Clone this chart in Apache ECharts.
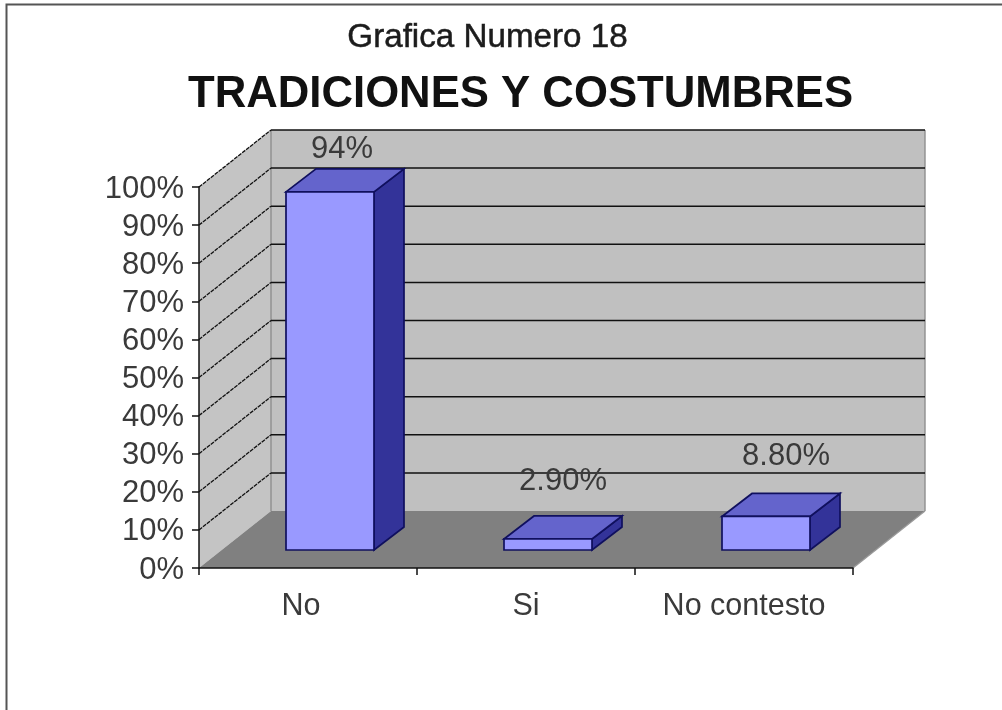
<!DOCTYPE html>
<html>
<head>
<meta charset="utf-8">
<style>html,body{margin:0;padding:0;background:#fff}#chart{width:1002px;height:710px}</style>
<script src="https://cdn.jsdelivr.net/npm/echarts@6/dist/echarts.min.js"></script>
</head>
<body>
<div id="chart"></div>
<script>
// Survey results: share of answers per category, in percent
const categories = ['No', 'Si', 'No contesto'];
const percentages = [94, 2.9, 8.8];
const valueLabels = ['94%', '2.90%', '8.80%'];
const gridLevels = [10, 20, 30, 40, 50, 60, 70, 80, 90, 100];

// Oblique projection used for the pseudo 3D box
const DEPTH_X = 72, DEPTH_Y = -57;
const BAR_WIDTH = 88, BAR_SHIFT_X = 22, BAR_SHIFT_Y = -18, BAR_DX = 30, BAR_DY = -23;
const labelShift = [[12, -42.5], [15, -57], [20, -60]];
const TEXT = '#3a3a3a', FONT = '"Liberation Sans", Arial, sans-serif';

const poly = (points, fill, stroke, width) => ({
  type: 'polygon',
  shape: { points },
  style: { fill, stroke: stroke || 'none', lineWidth: width || 0 }
});
const line = (a, b, stroke, width, dash) => ({
  type: 'line',
  shape: { x1: a[0], y1: a[1], x2: b[0], y2: b[1] },
  style: { stroke, lineWidth: width, lineDash: dash || null }
});

// Walls, floor and the grid lines that wrap from the side wall onto the back wall
function renderBox(params, api) {
  const lo = api.coord([0, 0]);
  const hi = api.coord([categories.length - 1, 100]);
  const band = api.size([1, 0])[0];
  const x0 = lo[0] - band / 2, x1 = hi[0] + band / 2, y0 = lo[1], y1 = hi[1];
  const back = (x, y) => [x + DEPTH_X, y + DEPTH_Y];
  const children = [
    poly([[x0, y1], back(x0, y1), back(x0, y0), [x0, y0]], '#c4c4c4'),
    poly([back(x0, y1), back(x1, y1), back(x1, y0), back(x0, y0)], '#c0c0c0'),
    poly([[x0, y0], back(x0, y0), back(x1, y0), [x1, y0]], '#808080'),
    line(back(x0, y1), back(x0, y0), '#8f8f8f', 1.4),
    line(back(x1, y1), back(x1, y0), '#8f8f8f', 1.4),
    line([x1, y0], back(x1, y0), '#9a9a9a', 1.2)
  ];
  gridLevels.forEach(level => {
    const y = api.coord([0, level])[1];
    children.push(line([x0, y], back(x0, y), '#111', 1.3, [4, 1]));
    children.push(line(back(x0, y), back(x1, y), '#111', 1.5));
  });
  return { type: 'group', children };
}

// One extruded bar: side and top faces behind the front face
function renderBar(params, api) {
  const idx = api.value(0);
  const top = api.coord([idx, api.value(1)]);
  const base = api.coord([idx, 0]);
  const l = base[0] + BAR_SHIFT_X - BAR_WIDTH / 2, r = l + BAR_WIDTH;
  const t = top[1] + BAR_SHIFT_Y, b = base[1] + BAR_SHIFT_Y;
  const edge = '#10105e';
  return {
    type: 'group',
    children: [
      poly([[r, t], [r + BAR_DX, t + BAR_DY], [r + BAR_DX, b + BAR_DY], [r, b]], '#333399', edge, 1.7),
      poly([[l, t], [l + BAR_DX, t + BAR_DY], [r + BAR_DX, t + BAR_DY], [r, t]], '#6464cc', edge, 1.7),
      poly([[l, t], [r, t], [r, b], [l, b]], '#9999ff', edge, 1.7),
      {
        type: 'text',
        style: {
          text: valueLabels[idx],
          x: (l + r) / 2 + labelShift[idx][0],
          y: t + labelShift[idx][1],
          align: 'center',
          verticalAlign: 'middle',
          fill: TEXT,
          font: '31px ' + FONT
        }
      }
    ]
  };
}

const chart = echarts.init(document.getElementById('chart'), null, { renderer: 'canvas' });
chart.setOption({
  animation: false,
  backgroundColor: '#ffffff',
  graphic: [{
    type: 'rect',
    shape: { x: 6.5, y: 4.5, width: 1100, height: 800 },
    style: { fill: 'none', stroke: '#555', lineWidth: 2 },
    silent: true
  }],
  title: [
    {
      text: 'Grafica Numero 18', left: 482.5, top: 16, textAlign: 'center',
      textStyle: {
        fontFamily: FONT, fontSize: 33.2, fontWeight: 'normal', color: '#1c1c1c',
        textBorderColor: '#1c1c1c', textBorderWidth: 0.5
      }
    },
    {
      text: 'TRADICIONES Y COSTUMBRES', left: 515.5, top: 68, textAlign: 'center',
      textStyle: { fontFamily: FONT, fontSize: 43.7, fontWeight: 'bold', color: '#111' }
    }
  ],
  grid: { left: 199, width: 654, top: 187, height: 381 },
  xAxis: {
    type: 'category',
    data: categories.map((name, i) => (i === 0 ? { value: name, textStyle: { padding: [0, 14, 0, 0] } } : name)),
    z: 5,
    axisLine: { lineStyle: { color: '#111', width: 1.5 } },
    axisTick: { show: true, alignWithLabel: false, length: 7, lineStyle: { color: '#111', width: 1.5 } },
    axisLabel: { color: TEXT, fontFamily: FONT, fontSize: 30.5, margin: 23 },
    splitLine: { show: false }
  },
  yAxis: {
    type: 'value',
    min: 0,
    max: 100,
    interval: 10,
    z: 5,
    axisLine: { show: true, lineStyle: { color: '#111', width: 1.5 } },
    axisTick: { show: true, length: 7, lineStyle: { color: '#111', width: 1.5 } },
    axisLabel: {
      margin: 15,
      formatter: '{tick|{value}%}',
      rich: { tick: { color: TEXT, fontFamily: FONT, fontSize: 31, padding: [4, 0, 0, 0] } }
    },
    splitLine: { show: false }
  },
  series: [
    {
      type: 'custom',
      coordinateSystem: 'cartesian2d',
      renderItem: renderBox,
      data: [[0, 0]],
      clip: false,
      silent: true,
      z: 1
    },
    {
      type: 'custom',
      coordinateSystem: 'cartesian2d',
      renderItem: renderBar,
      data: percentages.map((v, i) => [i, v]),
      encode: { x: 0, y: 1 },
      clip: false,
      z: 2
    }
  ]
});
</script>
</body>
</html>
